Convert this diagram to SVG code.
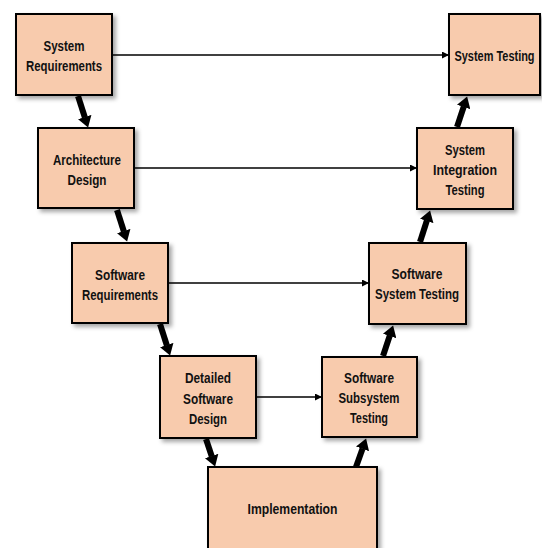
<svg xmlns="http://www.w3.org/2000/svg" width="542" height="548" viewBox="0 0 542 548">
  <defs>
    <filter id="shadow" x="-20%" y="-20%" width="150%" height="150%">
      <feDropShadow dx="3" dy="3" stdDeviation="2" flood-color="#000" flood-opacity="0.35"/>
    </filter>
    <marker id="thin-head" markerUnits="userSpaceOnUse" markerWidth="8" markerHeight="8" refX="7" refY="3.5" orient="auto">
      <path d="M0,0 L7,3.5 L0,7 z" fill="#000"/>
    </marker>
    <marker id="thick-head" markerUnits="userSpaceOnUse" markerWidth="12" markerHeight="14" refX="0.5" refY="7" orient="auto">
      <path d="M0,0 L11,7 L0,14 z" fill="#000"/>
    </marker>
  </defs>
  <style>
    .box { fill: #F8CBAD; stroke: #000; stroke-width: 2; filter: url(#shadow); }
    .label { font-family: "Liberation Sans", Arial, sans-serif; font-weight: bold; font-size: 15px; fill: #111; text-anchor: middle; }
    .flow { stroke: #000; stroke-width: 1.6; fill: none; marker-end: url(#thin-head); }
    .step { stroke: #000; stroke-width: 6; fill: none; marker-end: url(#thick-head); }
  </style>

  <g id="connectors">
    <!-- verification links across the V -->
    <line class="flow" x1="112" y1="55" x2="449" y2="55"/>
    <line class="flow" x1="134" y1="168" x2="417" y2="168"/>
    <line class="flow" x1="168" y1="283" x2="369" y2="283"/>
    <line class="flow" x1="256" y1="397" x2="322" y2="397"/>
    <!-- descending branch -->
    <line class="step" x1="78" y1="96" x2="84.9" y2="117.5"/>
    <line class="step" x1="117" y1="210" x2="123.9" y2="231.5"/>
    <line class="step" x1="160" y1="324" x2="166.9" y2="345.5"/>
    <line class="step" x1="206" y1="439" x2="211.8" y2="456.5"/>
    <!-- ascending branch -->
    <line class="step" x1="356" y1="467" x2="362.6" y2="448.4"/>
    <line class="step" x1="383" y1="356" x2="389.8" y2="335.5"/>
    <line class="step" x1="420" y1="242" x2="426.9" y2="220.5"/>
    <line class="step" x1="457" y1="127" x2="463.8" y2="106.5"/>
  </g>

  <g id="system-requirements">
    <rect class="box" x="16" y="14" width="96" height="81"/>
    <text class="label" x="64" y="51" textLength="41" lengthAdjust="spacingAndGlyphs">System</text>
    <text class="label" x="64" y="71" textLength="76" lengthAdjust="spacingAndGlyphs">Requirements</text>
  </g>

  <g id="architecture-design">
    <rect class="box" x="38" y="128" width="96" height="80"/>
    <text class="label" x="87" y="165" textLength="68" lengthAdjust="spacingAndGlyphs">Architecture</text>
    <text class="label" x="87" y="185" textLength="39" lengthAdjust="spacingAndGlyphs">Design</text>
  </g>

  <g id="software-requirements">
    <rect class="box" x="72" y="243" width="96" height="80"/>
    <text class="label" x="120" y="280" textLength="50" lengthAdjust="spacingAndGlyphs">Software</text>
    <text class="label" x="120" y="300" textLength="76" lengthAdjust="spacingAndGlyphs">Requirements</text>
  </g>

  <g id="detailed-software-design">
    <rect class="box" x="160" y="356" width="96" height="82"/>
    <text class="label" x="208" y="383" textLength="46" lengthAdjust="spacingAndGlyphs">Detailed</text>
    <text class="label" x="208" y="404" textLength="50" lengthAdjust="spacingAndGlyphs">Software</text>
    <text class="label" x="208" y="424" textLength="38" lengthAdjust="spacingAndGlyphs">Design</text>
  </g>

  <g id="implementation">
    <rect class="box" x="208" y="467" width="169" height="95"/>
    <text class="label" x="292.5" y="514" textLength="90" lengthAdjust="spacingAndGlyphs">Implementation</text>
  </g>

  <g id="software-subsystem-testing">
    <rect class="box" x="322" y="357" width="95" height="80"/>
    <text class="label" x="369" y="383" textLength="50" lengthAdjust="spacingAndGlyphs">Software</text>
    <text class="label" x="369" y="403" textLength="61" lengthAdjust="spacingAndGlyphs">Subsystem</text>
    <text class="label" x="369" y="423" textLength="38" lengthAdjust="spacingAndGlyphs">Testing</text>
  </g>

  <g id="software-system-testing">
    <rect class="box" x="369" y="243" width="97" height="81"/>
    <text class="label" x="417" y="279" textLength="51" lengthAdjust="spacingAndGlyphs">Software</text>
    <text class="label" x="417" y="299" textLength="84" lengthAdjust="spacingAndGlyphs">System Testing</text>
  </g>

  <g id="system-integration-testing">
    <rect class="box" x="417" y="128" width="96" height="81"/>
    <text class="label" x="465" y="155" textLength="40" lengthAdjust="spacingAndGlyphs">System</text>
    <text class="label" x="465" y="175" textLength="64" lengthAdjust="spacingAndGlyphs">Integration</text>
    <text class="label" x="465" y="195" textLength="39" lengthAdjust="spacingAndGlyphs">Testing</text>
  </g>

  <g id="system-testing">
    <rect class="box" x="449" y="14" width="91" height="81"/>
    <text class="label" transform="translate(494.5 61) scale(0.73 1)" x="0" y="0">System Testing</text>
  </g>
</svg>
